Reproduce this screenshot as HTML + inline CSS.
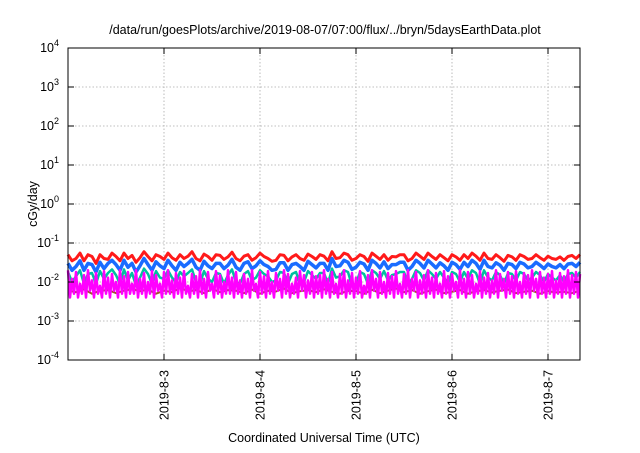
<!DOCTYPE html>
<html><head><meta charset="utf-8"><style>
body{margin:0;background:#fff}
svg text{font-family:"Liberation Sans",sans-serif;fill:#000}
</style></head><body>
<svg id="chart" width="640" height="448" viewBox="0 0 640 448" xmlns="http://www.w3.org/2000/svg">
<text x="325" y="34" font-size="12.5" text-anchor="middle">/data/run/goesPlots/archive/2019-08-07/07:00/flux/../bryn/5daysEarthData.plot</text>
<g id="grid"></g>
<g id="series"></g>
<rect x="68" y="48" width="512" height="312" fill="none" stroke="#000" stroke-width="1"/>
<g id="axes"></g>
<text transform="translate(37,204) rotate(-90)" font-size="12.5" text-anchor="middle">cGy/day</text>
<text x="324" y="442" font-size="12.5" text-anchor="middle">Coordinated Universal Time (UTC)</text>
</svg>
<script>
const yExps=[4,3,2,1,0,-1,-2,-3,-4];
const xTickLabels=["2019-8-3","2019-8-4","2019-8-5","2019-8-6","2019-8-7"];
const xTickHours=[24,48,72,96,120];
const xMaxHours=128;
const stepCoarse=1;
const stepFine=0.5;
const red=[0.05,0.035,0.04,0.055,0.035,0.05,0.045,0.03,0.05,0.04,0.038,0.055,0.045,0.035,0.055,0.04,0.048,0.032,0.042,0.06,0.045,0.035,0.05,0.045,0.038,0.055,0.042,0.036,0.05,0.04,0.046,0.06,0.04,0.035,0.052,0.045,0.036,0.05,0.048,0.038,0.044,0.058,0.04,0.035,0.046,0.05,0.036,0.042,0.055,0.045,0.04,0.034,0.036,0.05,0.048,0.035,0.044,0.05,0.04,0.036,0.052,0.045,0.038,0.05,0.046,0.035,0.06,0.04,0.042,0.055,0.05,0.036,0.04,0.05,0.045,0.034,0.055,0.046,0.038,0.05,0.036,0.045,0.044,0.05,0.05,0.035,0.04,0.055,0.046,0.038,0.055,0.045,0.038,0.05,0.042,0.035,0.05,0.044,0.036,0.05,0.04,0.055,0.046,0.036,0.055,0.04,0.038,0.05,0.042,0.034,0.048,0.044,0.036,0.05,0.045,0.038,0.04,0.05,0.042,0.036,0.046,0.04,0.038,0.044,0.036,0.045,0.048,0.04,0.05];
const blue=[0.03,0.02,0.025,0.035,0.02,0.03,0.028,0.018,0.032,0.022,0.03,0.036,0.028,0.02,0.036,0.024,0.03,0.018,0.026,0.04,0.028,0.02,0.033,0.026,0.022,0.036,0.026,0.02,0.032,0.025,0.03,0.038,0.024,0.02,0.034,0.026,0.022,0.03,0.03,0.022,0.027,0.038,0.024,0.02,0.03,0.033,0.022,0.026,0.035,0.028,0.025,0.02,0.021,0.031,0.031,0.02,0.028,0.03,0.025,0.02,0.034,0.028,0.023,0.03,0.03,0.02,0.04,0.025,0.026,0.036,0.032,0.021,0.024,0.032,0.029,0.02,0.036,0.03,0.023,0.033,0.022,0.028,0.028,0.032,0.032,0.02,0.025,0.036,0.03,0.023,0.036,0.029,0.023,0.031,0.026,0.02,0.032,0.028,0.021,0.032,0.025,0.036,0.03,0.021,0.036,0.025,0.023,0.031,0.027,0.02,0.03,0.028,0.022,0.032,0.029,0.023,0.025,0.032,0.027,0.022,0.029,0.025,0.023,0.028,0.022,0.029,0.03,0.025,0.032];
const teal=[0.018,0.01,0.014,0.02,0.009,0.016,0.017,0.009,0.019,0.012,0.017,0.021,0.015,0.009,0.021,0.011,0.017,0.008,0.013,0.022,0.016,0.009,0.019,0.013,0.012,0.02,0.013,0.01,0.018,0.014,0.017,0.021,0.01,0.009,0.019,0.012,0.01,0.017,0.016,0.009,0.015,0.021,0.01,0.009,0.016,0.019,0.011,0.013,0.02,0.016,0.014,0.01,0.011,0.018,0.017,0.009,0.016,0.018,0.009,0.01,0.019,0.015,0.012,0.017,0.017,0.009,0.022,0.013,0.014,0.02,0.018,0.008,0.009,0.018,0.016,0.009,0.02,0.017,0.012,0.019,0.011,0.015,0.016,0.018,0.018,0.009,0.012,0.02,0.017,0.011,0.02,0.016,0.012,0.018,0.013,0.009,0.018,0.016,0.01,0.018,0.012,0.02,0.017,0.009,0.02,0.013,0.011,0.018,0.015,0.009,0.017,0.016,0.011,0.018,0.016,0.011,0.013,0.018,0.015,0.01,0.016,0.013,0.011,0.015,0.01,0.016,0.017,0.013,0.018];
const brown=[0.006,0.0055,0.0065,0.005,0.006,0.0062,0.0052,0.006,0.0066,0.0058,0.0064,0.005,0.006,0.0055,0.007,0.0058,0.0062,0.0052,0.0066,0.0055,0.0062,0.006,0.0052,0.0064,0.005,0.006,0.0057,0.0068,0.0052,0.0058,0.0062,0.0055,0.0065,0.0056,0.005,0.006,0.0058,0.005,0.0063,0.0052,0.006,0.0068,0.0055,0.0062,0.005,0.0058,0.0064,0.0052,0.0056,0.0062,0.005,0.0058,0.0062,0.0054,0.006,0.0064,0.0052,0.0056,0.006,0.005,0.0058,0.0054,0.0056,0.0052,0.006];
const magenta=[0.02,0.004,0.012,0.005,0.018,0.004,0.009,0.005,0.015,0.004,0.02,0.006,0.011,0.004,0.017,0.005,0.008,0.004,0.019,0.005,0.013,0.004,0.016,0.006,0.01,0.004,0.02,0.005,0.014,0.004,0.018,0.005,0.009,0.005,0.02,0.004,0.012,0.005,0.017,0.004,0.01,0.005,0.019,0.004,0.015,0.006,0.009,0.004,0.018,0.005,0.02,0.005,0.011,0.004,0.017,0.005,0.013,0.004,0.019,0.005,0.008,0.004,0.016,0.005,0.014,0.004,0.02,0.005,0.012,0.004,0.018,0.006,0.009,0.004,0.019,0.005,0.015,0.004,0.01,0.005,0.02,0.005,0.013,0.004,0.018,0.005,0.011,0.004,0.016,0.005,0.012,0.004,0.02,0.006,0.009,0.004,0.018,0.005,0.014,0.004,0.019,0.005,0.01,0.004,0.017,0.006,0.012,0.004,0.02,0.005,0.016,0.004,0.009,0.005,0.013,0.004,0.019,0.006,0.015,0.004,0.011,0.005,0.018,0.004,0.014,0.005,0.015,0.004,0.02,
0.005,0.012,0.004,0.018,0.005,0.009,0.004,0.016,0.005,0.02,0.004,0.011,0.005,0.017,0.004,0.013,0.005,0.019,0.004,0.008,0.005,0.015,0.004,0.02,0.006,0.012,0.004,0.018,0.005,0.01,0.004,0.017,0.005,0.014,0.004,0.019,0.005,0.009,0.004,0.016,0.005,0.02,0.004,0.012,0.006,0.018,0.004,0.011,0.005,0.015,0.004,0.02,0.005,0.013,0.004,0.017,0.005,0.009,0.004,0.019,0.005,0.014,0.004,0.016,0.006,0.01,0.004,0.02,0.005,0.012,0.004,0.018,0.005,0.015,0.004,0.009,0.005,0.019,0.004,0.013,0.005,0.017,0.004,0.011,0.005,0.02,0.004,0.016,0.006,0.012,0.004,0.018,0.005,0.014,0.004,0.019,0.005,0.01,0.004,0.017,0.005,0.015,0.004,0.02,0.006,0.012,0.004,0.018,0.005,0.013,0.004,0.016,0.005,0.019,0.004,0.011,0.005,0.017,0.004,0.014,0.005,0.02,0.004,0.015,0.005,0.018,0.004,0.016];
const L=68,R=580,T=48,B=360;
const xs=h=>L+(h/xMaxHours)*(R-L);
const ys=v=>T+(4-Math.log10(v))*(B-T)/8;
const NS="http://www.w3.org/2000/svg";
const mk=(t,a,p)=>{const e=document.createElementNS(NS,t);for(const k in a)e.setAttribute(k,a[k]);p.appendChild(e);return e;};
const grid=document.getElementById('grid'),axes=document.getElementById('axes'),sg=document.getElementById('series');
yExps.forEach(e=>{
  const y=T+(4-e)*(B-T)/8;
  if(e<4&&e>-4){const g=mk('line',{x1:L,x2:R,y1:y,y2:y,stroke:'#aaa','stroke-width':0.8,'stroke-dasharray':'1.5,2'},grid);
  
  }
  const t1=mk('line',{x1:L,x2:L+6,y1:y,y2:y,stroke:'#000'},axes);
  
  
  const t2=mk('line',{x1:R,x2:R-6,y1:y,y2:y,stroke:'#000'},axes);
  
  
  const tx=mk('text',{x:L-9,y:y+4,'font-size':12.5,'text-anchor':'end'},axes);
  
  
  tx.textContent='10';
  const sp=mk('tspan',{dy:-6,'font-size':9},tx);sp.textContent=String(e);
});
xTickHours.forEach((h,i)=>{
  const x=xs(h);
  const g=mk('line',{x1:x,x2:x,y1:T,y2:B,stroke:'#aaa','stroke-width':0.8,'stroke-dasharray':'1.5,2'},grid);
  
  
  const t1=mk('line',{x1:x,x2:x,y1:B,y2:B-6,stroke:'#000'},axes);
  
  
  const t2=mk('line',{x1:x,x2:x,y1:T,y2:T+6,stroke:'#000'},axes);
  
  
  const tx=mk('text',{transform:`translate(${x+4.5},370) rotate(-90)`,'font-size':12.5,'text-anchor':'end'},axes);
  
  
  tx.textContent=xTickLabels[i];
});
function draw(arr,step,color,w,name){
  const d=arr.map((v,i)=>(i?'L':'M')+xs(Math.min(i*step,xMaxHours)).toFixed(1)+','+ys(v).toFixed(1)).join('');
  const p=mk('path',{d:d,fill:'none',stroke:color,'stroke-width':w,'stroke-linejoin':'round'},sg);
  
  
}
draw(red,stepCoarse,'#ff1a1a',3,'series-red');
draw(brown,2,'#a0522d',2,'series-brown');
draw(teal,stepCoarse,'#00c0a0',2.5,'series-teal');
draw(blue,stepCoarse,'#1a6cff',3.5,'series-blue');
draw(magenta,stepFine,'#ff00ff',2.5,'series-magenta');
</script>
</body></html>
